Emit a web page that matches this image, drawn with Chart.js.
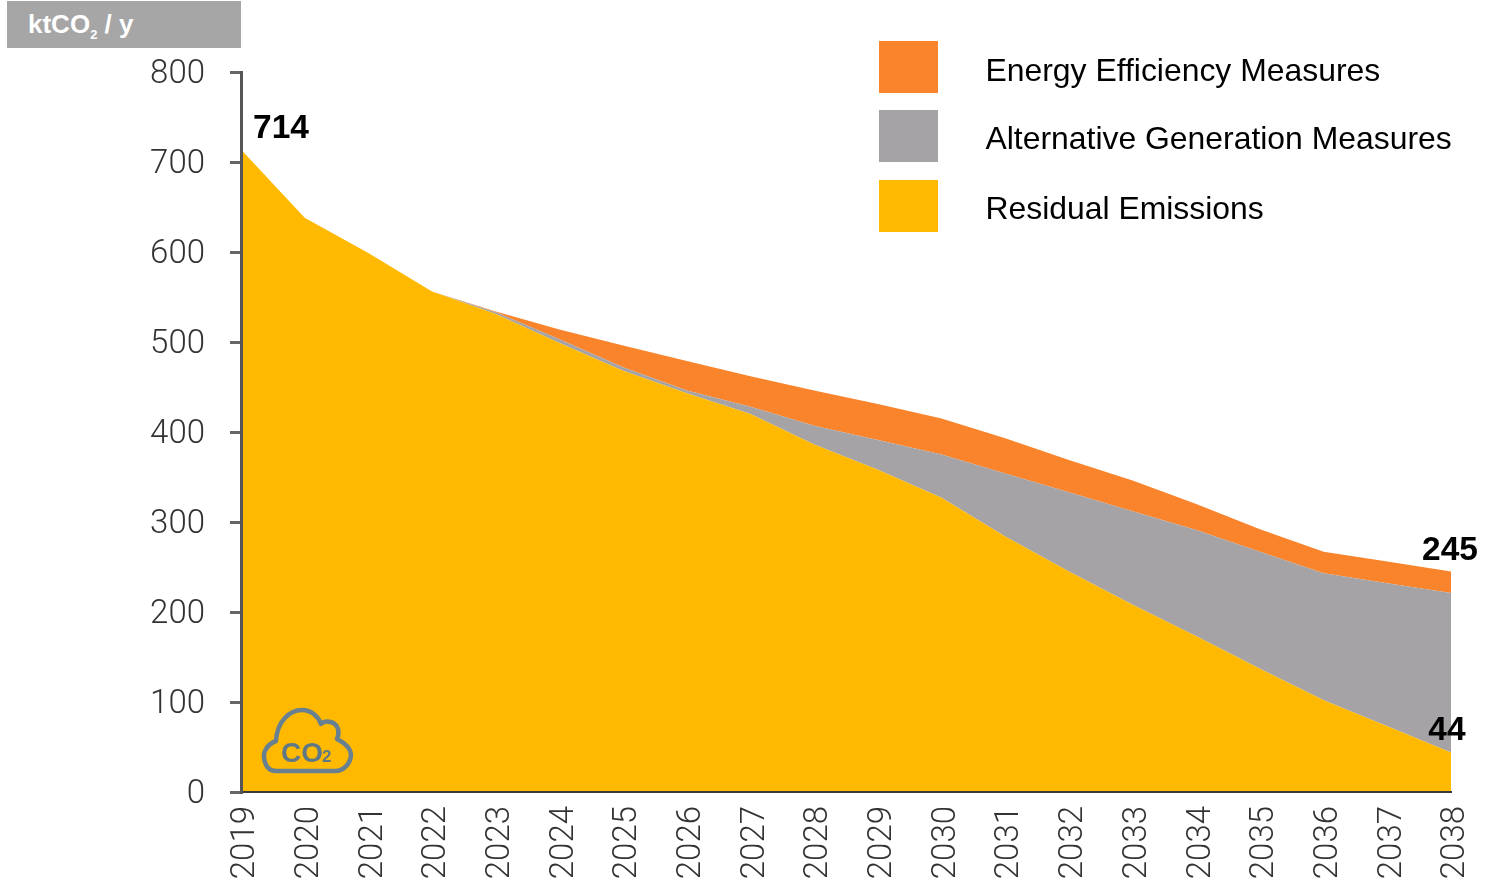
<!DOCTYPE html>
<html>
<head>
<meta charset="utf-8">
<title>ktCO2 / y</title>
<script src="https://cdn.jsdelivr.net/npm/chart.js@4"></script>
<style>
  body { margin: 0; background: #fff; font-family: "Liberation Sans", Arial, sans-serif; }
  #wrap { position: relative; width: 1485px; height: 883px; overflow: hidden; }
  canvas { display: block; }
  #unit {
    position: absolute; left: 7px; top: 1px; width: 234px; height: 47px; background: #a6a6a6;
    color: #fff; font-weight: bold; font-size: 26px; line-height: 47px; text-indent: 21px;
  }
  #unit sub { font-size: 13px; line-height: 0; }
  #cloud { position: absolute; left: 260px; top: 705px; }
</style>
</head>
<body>
<div id="wrap">
  <canvas id="chart" width="1485" height="883"></canvas>
  <div id="unit">ktCO<sub>2</sub> / y</div>
  <svg id="cloud" width="96" height="72" viewBox="0 0 96 72">
    <path d="M16 66 C4 66 2 50 6 44 C9 39 13 37 16 36 C17 16 30 5 42 5 C51 5 58 11 61 19 C66 14 76 17 78 24 C79 28 78 32 77 34 C83 37 90 42 91 49 C91 57 85 66 75 66 Z"
          fill="none" stroke="#68808f" stroke-width="4.5" stroke-linejoin="round"/>
    <text x="21" y="57" font-family="Liberation Sans" font-weight="bold" font-size="28" fill="#5f7886">CO</text>
    <text x="62" y="57" font-family="Liberation Sans" font-weight="bold" font-size="17" fill="#5f7886">2</text>
  </svg>
</div>
<script>
const years = ['2019','2020','2021','2022','2023','2024','2025','2026','2027','2028',
  '2029','2030','2031','2032','2033','2034','2035','2036','2037','2038'];
const yTicks = [0, 100, 200, 300, 400, 500, 600, 700, 800];

const residual = [714, 638, 599, 556, 531, 499, 468, 443, 420, 386, 358, 327, 284, 245, 208, 173, 137, 102, 73, 44];
const alternative = [0, 0, 0, 0, 2, 4, 4, 3, 8, 21, 33, 48, 70, 88, 104, 118, 130, 141, 159, 177];
const efficiency = [0, 0, 0, 0, 1, 11, 24, 33, 34, 39, 40, 40, 39, 36, 34, 29, 25, 24, 24, 24];

const seriesNames = ['Residual Emissions', 'Alternative Generation Measures', 'Energy Efficiency Measures'];
const seriesColors = ['#ffb900', '#a5a3a6', '#f9842c'];

// value call-outs: [dataset index, point index, text]
const callouts = [
  [0, 0, '714'],
  [0, 19, '44'],
  [2, 19, '245']
];

const FONT = '"Liberation Sans", Arial, sans-serif';
const TICK_FONT = { family: 'Roboto, "Liberation Sans", sans-serif', size: 33, weight: '300' };

function makeSeries(i, values) {
  return {
    label: seriesNames[i],
    data: values,
    backgroundColor: seriesColors[i],
    borderWidth: 0,
    pointRadius: 0,
    tension: 0,
    fill: i === 0 ? 'origin' : '-1'
  };
}

// legend is drawn top to bottom in reverse stack order, big swatches far from the text
const bigLegend = {
  id: 'bigLegend',
  afterDraw(chart) {
    const ctx = chart.ctx;
    const rowY = [41, 110, 180];
    ctx.save();
    ctx.font = '31.9px ' + FONT;
    ctx.textBaseline = 'middle';
    ctx.textAlign = 'left';
    chart.data.datasets.slice().reverse().forEach((ds, i) => {
      ctx.fillStyle = ds.backgroundColor;
      ctx.fillRect(879, rowY[i], 59, 52);
      ctx.fillStyle = '#000';
      ctx.fillText(ds.label, 985.5, rowY[i] + (i === 0 ? 31 : 30));
    });
    ctx.restore();
  }
};

const valueLabels = {
  id: 'valueLabels',
  afterDraw(chart) {
    const ctx = chart.ctx;
    const xs = chart.scales.x;
    const ys = chart.scales.y;
    ctx.save();
    ctx.font = 'bold 33.5px ' + FONT;
    ctx.fillStyle = '#000';
    ctx.textBaseline = 'alphabetic';
    callouts.forEach(([d, p, text]) => {
      let total = 0;
      for (let i = 0; i <= d; i++) total += chart.data.datasets[i].data[p];
      const px = xs.getPixelForValue(p);
      const py = ys.getPixelForValue(total);
      if (p === 0) {
        ctx.textAlign = 'left';
        ctx.fillText(text, px + 12, py - 11);
      } else {
        ctx.textAlign = 'center';
        ctx.fillText(text, px - (d === 0 ? 4 : 1), py - 12);
      }
    });
    ctx.restore();
  }
};

new Chart(document.getElementById('chart'), {
  type: 'line',
  data: {
    labels: years,
    datasets: [makeSeries(0, residual), makeSeries(1, alternative), makeSeries(2, efficiency)]
  },
  plugins: [bigLegend, valueLabels],
  options: {
    responsive: false,
    animation: false,
    layout: { padding: { top: 72, right: 34, left: 0, bottom: 0 } },
    plugins: { legend: { display: false }, tooltip: { enabled: false } },
    scales: {
      x: {
        stacked: true,
        offset: false,
        afterFit(scale) { scale.height = 91; scale.paddingLeft = 0; scale.paddingRight = 0; },
        grid: { display: false },
        border: { display: true, color: '#3a3a3a', width: 2, z: 1 },
        ticks: {
          autoSkip: false, maxRotation: 90, minRotation: 90, padding: 6, labelOffset: 5,
          color: '#333', font: TICK_FONT
        }
      },
      y: {
        stacked: true,
        min: 0,
        max: 800,
        afterFit(scale) { scale.width = 241; },
        afterBuildTicks(scale) { scale.ticks = yTicks.map(v => ({ value: v })); },
        grid: { drawOnChartArea: false, drawTicks: true, tickLength: 11, color: '#666', lineWidth: 3 },
        border: { display: true, color: '#555', width: 3, z: 1 },
        ticks: { padding: 25, labelOffset: 3, color: '#333', font: TICK_FONT }
      }
    }
  }
});
</script>
</body>
</html>
